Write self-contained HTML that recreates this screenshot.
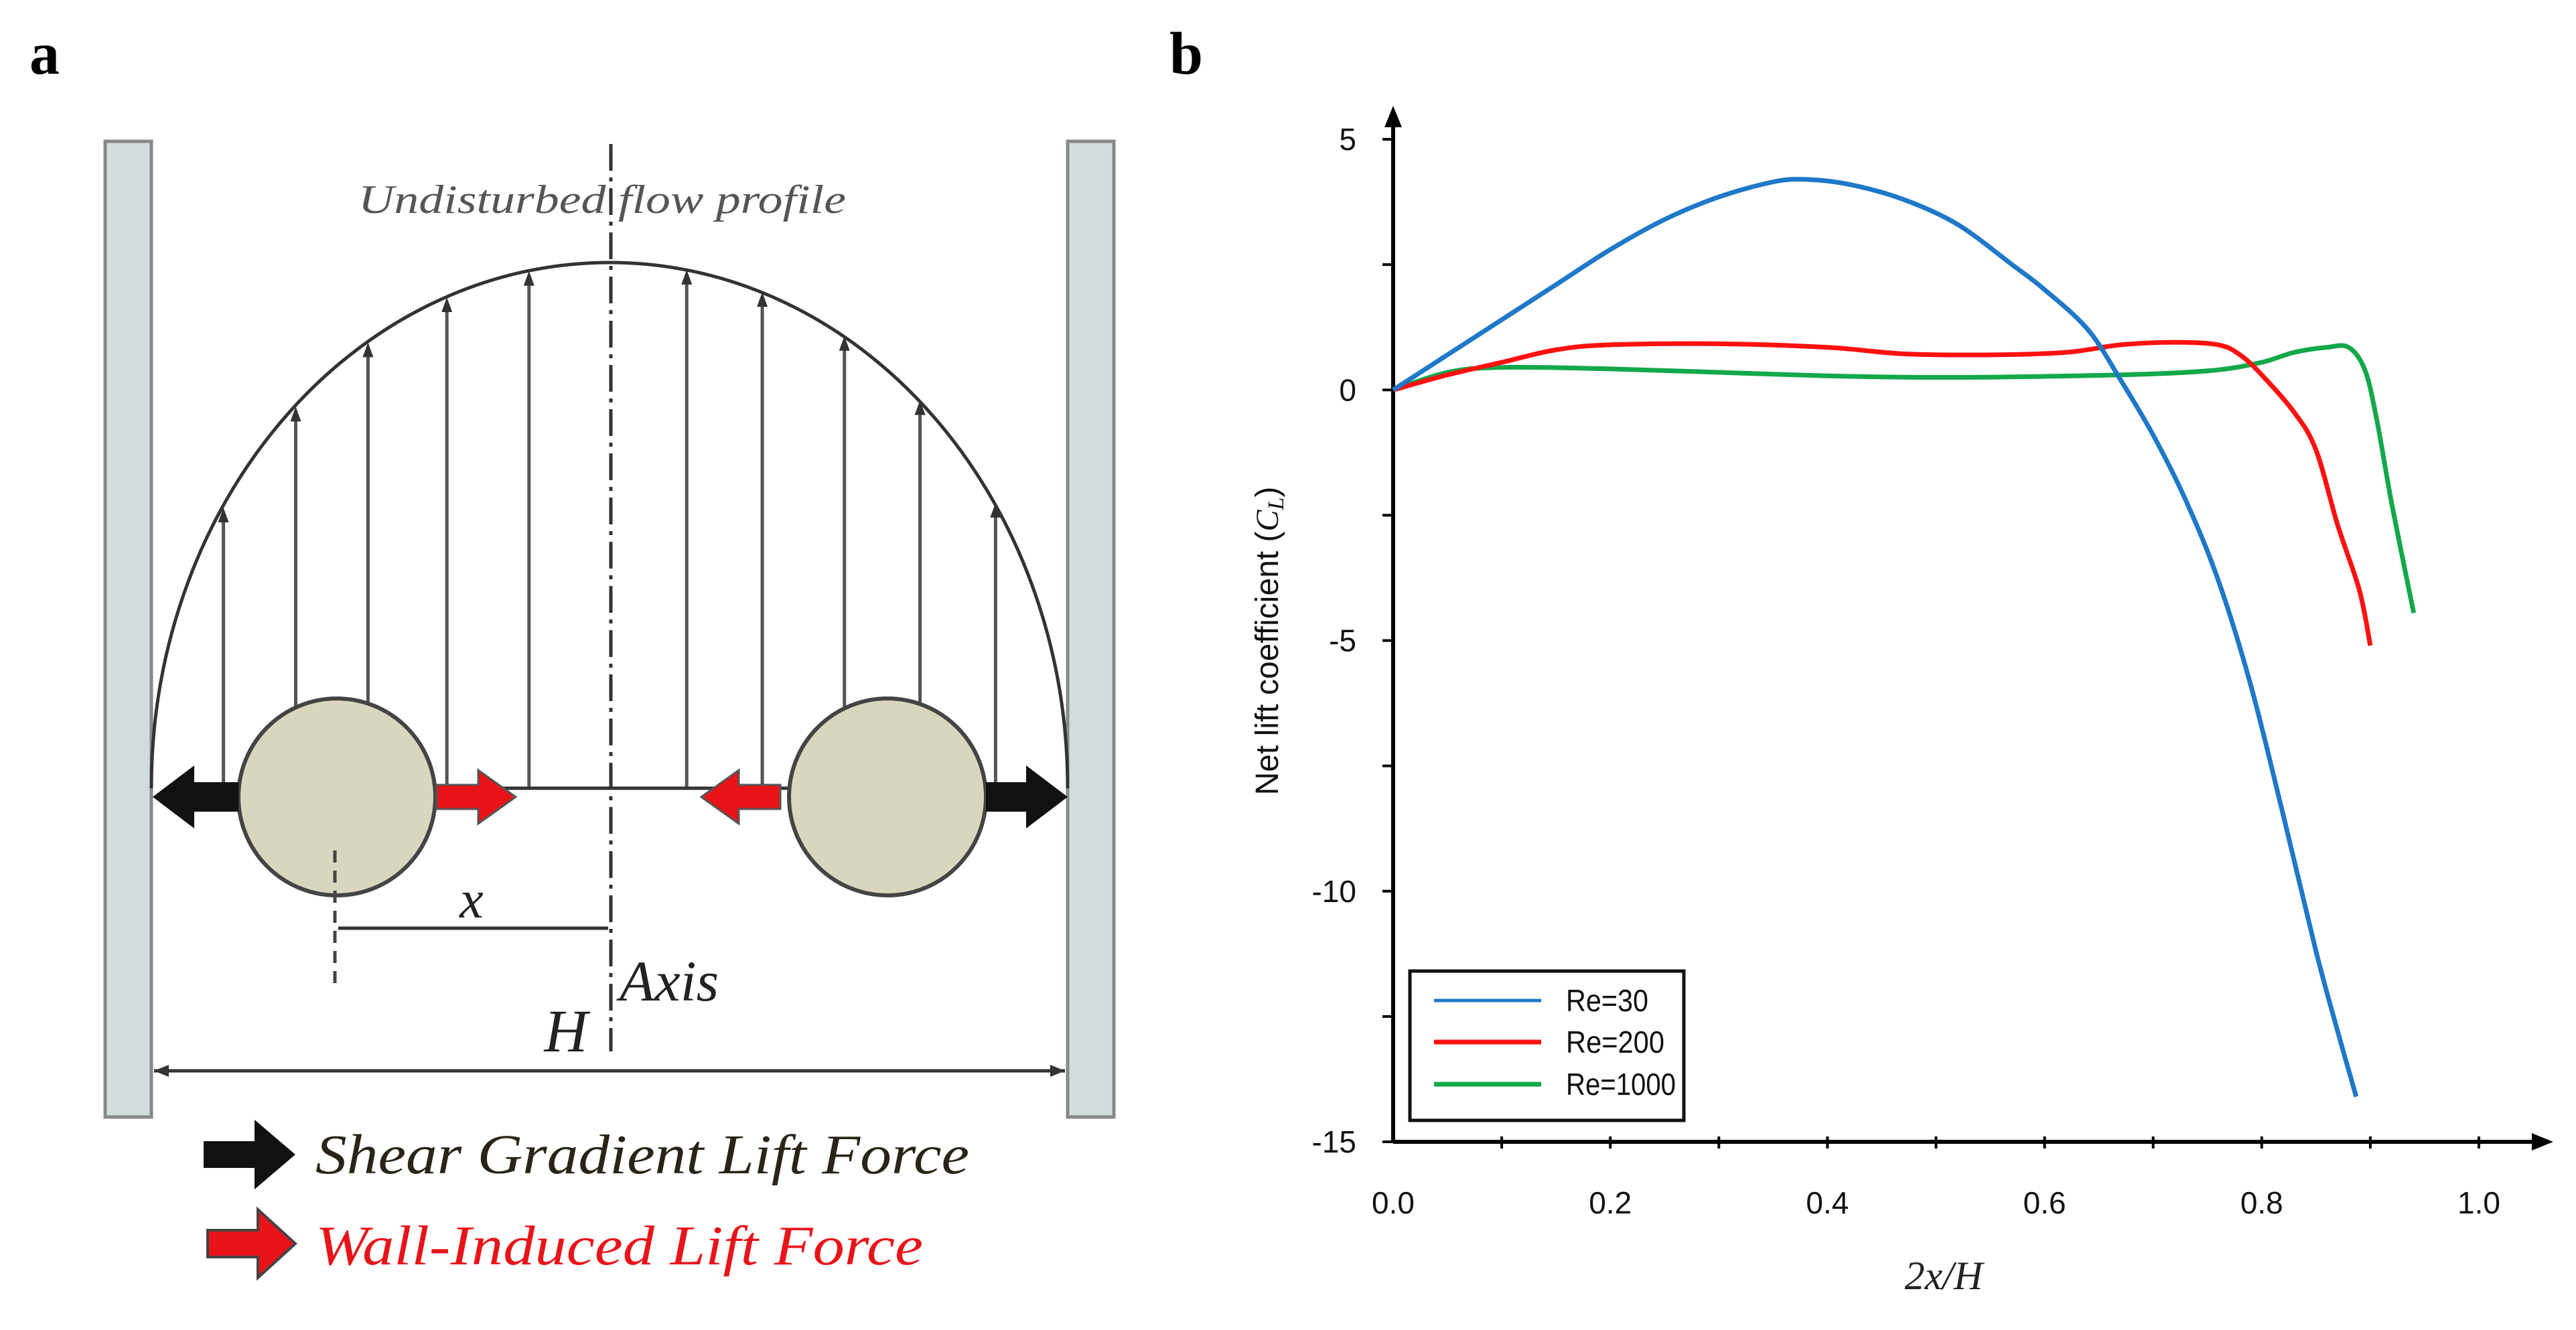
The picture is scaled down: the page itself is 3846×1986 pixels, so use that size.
<!DOCTYPE html>
<html><head><meta charset="utf-8">
<style>
html,body{margin:0;padding:0;background:#fff;}
svg{display:block;}
</style></head>
<body>
<svg id="fig" width="3846" height="1986" viewBox="0 0 3846 1986" xmlns="http://www.w3.org/2000/svg">
<rect width="3846" height="1986" fill="#fff"/>
<text x="44" y="110" font-family="Liberation Serif, serif" font-weight="bold" font-size="90">a</text>
<text x="1746" y="110" font-family="Liberation Serif, serif" font-weight="bold" font-size="90">b</text>

<g>
  <rect x="157" y="211" width="69" height="1457" fill="#d3dcdc" stroke="#888" stroke-width="5"/>
  <rect x="1594" y="211" width="69" height="1457" fill="#d3dcdc" stroke="#888" stroke-width="5"/>
  <g stroke="#555" stroke-width="5" id="vecs"></g>
  <path d="M226,1177 A684,785 0 0 1 1594,1177" fill="none" stroke="#333" stroke-width="5"/>
  <line x1="650" y1="1177" x2="1180" y2="1177" stroke="#333" stroke-width="5"/>
  <line x1="912" y1="215" x2="912" y2="1570" stroke="#333" stroke-width="5" stroke-dasharray="40,10,6,10"/>
  <text x="535" y="318" textLength="728" lengthAdjust="spacingAndGlyphs" font-family="Liberation Serif, serif" font-style="italic" font-size="60" fill="#555">Undisturbed flow profile</text>
  <circle cx="503" cy="1190" r="147" fill="#d8d6bd" stroke="#444" stroke-width="6"/>
  <circle cx="1325" cy="1190" r="147" fill="#d8d6bd" stroke="#444" stroke-width="6"/>
  <polygon points="356,1168 290,1168 290,1143 228,1190 290,1237 290,1212 356,1212" fill="#111"/>
  <polygon points="1472,1168 1532,1168 1532,1143 1594,1190 1532,1237 1532,1212 1472,1212" fill="#111"/>
  <polygon points="652,1172 714,1172 714,1150 770,1190 714,1230 714,1208 652,1208" fill="#e8141a" stroke="#555" stroke-width="3"/>
  <polygon points="1165,1172 1103,1172 1103,1150 1047,1190 1103,1230 1103,1208 1165,1208" fill="#e8141a" stroke="#555" stroke-width="3"/>
  <line x1="500" y1="1270" x2="500" y2="1480" stroke="#444" stroke-width="5" stroke-dasharray="18,12"/>
  <line x1="505" y1="1386" x2="908" y2="1386" stroke="#333" stroke-width="5"/>
  <text x="704" y="1370" text-anchor="middle" font-family="Liberation Serif, serif" font-style="italic" font-size="80" fill="#222">x</text>
  <text x="925" y="1494" font-family="Liberation Serif, serif" font-style="italic" font-size="86" fill="#222">Axis</text>
  <text x="845" y="1570" text-anchor="middle" font-family="Liberation Serif, serif" font-style="italic" font-size="90" fill="#222">H</text>
  <line x1="230" y1="1599" x2="1590" y2="1599" stroke="#333" stroke-width="5"/>
  <polygon points="230,1599 252,1590 252,1608" fill="#333"/>
  <polygon points="1590,1599 1568,1590 1568,1608" fill="#333"/>
  <polygon points="304,1704 380,1704 380,1672 441,1724 380,1776 380,1744 304,1744" fill="#111"/>
  <text x="471" y="1752" textLength="976" lengthAdjust="spacingAndGlyphs" font-family="Liberation Serif, serif" font-style="italic" font-size="84" fill="#2a2418">Shear Gradient Lift Force</text>
  <polygon points="310,1837 385,1837 385,1806 441,1857 385,1908 385,1877 310,1877" fill="#e8141a" stroke="#444" stroke-width="4"/>
  <text x="471" y="1888" textLength="907" lengthAdjust="spacingAndGlyphs" font-family="Liberation Serif, serif" font-style="italic" font-size="84" fill="#e8141a">Wall-Induced Lift Force</text>
</g>

<g id="chart"></g>
</svg>
<script>
const vecXs=[136,180,224,272,322,418,464,514,560,606];
const NS="http://www.w3.org/2000/svg";
(function(){
  const g=document.getElementById('vecs');
  vecXs.forEach(s=>{
    const x=s*2.4528, cx=912, dx=(x-cx)/684;
    const top=1177-785*Math.sqrt(Math.max(0,1-dx*dx));
    const l=document.createElementNS(NS,'line');
    
    
    l.setAttribute('x1',x);l.setAttribute('x2',x);l.setAttribute('y1',1177);l.setAttribute('y2',top+8);
    g.appendChild(l);
    const p=document.createElementNS(NS,'polygon');
    
    
    p.setAttribute('points',`${x},${top} ${x-8},${top+22} ${x+8},${top+22}`);
    p.setAttribute('fill','#333');p.setAttribute('stroke','none');
    g.appendChild(p);
  });
})();

const xTicks=[0.0,0.2,0.4,0.6,0.8,1.0];
const xTickLabels=["0.0","0.2","0.4","0.6","0.8","1.0"];
const yTicks=[5,0,-5,-10,-15];
const yTickLabels=["5","0","-5","-10","-15"];
const seriesNames=["Re=30","Re=200","Re=1000"];
const re30X=[0,0.05,0.1,0.15,0.2,0.25,0.3,0.35,0.38,0.42,0.47,0.52,0.57,0.6,0.64,0.67,0.7,0.73,0.76,0.79,0.82,0.85,0.87,0.887];
const re30Y=[0,0.7,1.4,2.1,2.8,3.4,3.85,4.15,4.2,4.1,3.8,3.3,2.5,2.0,1.2,0.2,-0.9,-2.2,-3.8,-5.9,-8.5,-11.2,-12.8,-14.1];
const re200X=[0,0.05,0.1,0.15,0.2,0.3,0.4,0.47,0.55,0.62,0.67,0.72,0.76,0.78,0.8,0.83,0.85,0.87,0.89,0.9];
const re200Y=[0,0.3,0.55,0.8,0.9,0.92,0.85,0.72,0.7,0.75,0.9,0.95,0.9,0.7,0.3,-0.45,-1.2,-2.7,-4.0,-5.1];
const re1000X=[0,0.05,0.1,0.2,0.3,0.4,0.5,0.6,0.7,0.76,0.8,0.83,0.86,0.88,0.895,0.906,0.92,0.94];
const re1000Y=[0,0.35,0.45,0.42,0.35,0.28,0.25,0.27,0.32,0.4,0.55,0.75,0.85,0.85,0.4,-0.6,-2.3,-4.45];
const colors=["#1f78c8","#ff1010","#13a84a"];

const X0=2080,X1=3701,YT=208,YB=1705;
function sx(v){return X0+(v-0)*(X1-X0)/1.0;}
function sy(v){return YT+(5-v)*(YB-YT)/20;}
const chart=document.getElementById('chart');
function el(tag,attrs){const e=document.createElementNS(NS,tag);for(const k in attrs)e.setAttribute(k,attrs[k]);chart.appendChild(e);return e;}

let a=el('line',{x1:X0,y1:YB,x2:3795,y2:YB,stroke:'#000','stroke-width':6});


a=el('polygon',{points:`3812,${YB} 3780,${YB-13} 3780,${YB+13}`,fill:'#000'});


a=el('line',{x1:X0,y1:YB,x2:X0,y2:175,stroke:'#000','stroke-width':6});


a=el('polygon',{points:`${X0},158 ${X0-13},190 ${X0+13},190`,fill:'#000'});



for(let v=0.1;v<=1.001;v+=0.1){
  const t=el('line',{x1:sx(v),x2:sx(v),y1:YB-8,y2:YB+10,stroke:'#000','stroke-width':4});
  
  
}
for(let v=-15;v<=5;v+=2.5){
  const t=el('line',{x1:X0-16,x2:X0,y1:sy(v),y2:sy(v),stroke:'#000','stroke-width':4});
  
  
}
xTicks.forEach((v,i)=>{
  const t=el('text',{x:sx(v),y:1812,'text-anchor':'middle','font-family':'Liberation Sans, sans-serif','font-size':46,fill:'#111'});
  t.textContent=xTickLabels[i];
  
  
});
yTicks.forEach((v,i)=>{
  const t=el('text',{x:2025,y:sy(v)+16,'text-anchor':'end','font-family':'Liberation Sans, sans-serif','font-size':46,fill:'#111'});
  t.textContent=yTickLabels[i];
  
  
});
let tt=el('text',{x:2902,y:1925,'text-anchor':'middle','font-family':'Liberation Serif, serif','font-style':'italic','font-size':60,fill:'#222'});
tt.textContent='2x/H';


tt=el('text',{x:0,y:0,transform:'translate(1908,957) rotate(-90)','text-anchor':'middle','font-family':'Liberation Sans, sans-serif','font-size':48,fill:'#111'});
tt.innerHTML='Net lift coefficient (<tspan font-family="Liberation Serif, serif" font-style="italic">C<tspan font-size="34" dy="8">L</tspan></tspan><tspan dy="-8">)</tspan>';



function smooth(xs,ys){
  const p=xs.map((x,i)=>[sx(x),sy(ys[i])]);
  let d=`M${p[0][0]},${p[0][1]}`;
  for(let i=0;i<p.length-1;i++){
    const p0=p[Math.max(0,i-1)],p1=p[i],p2=p[i+1],p3=p[Math.min(p.length-1,i+2)];
    const c1=[p1[0]+(p2[0]-p0[0])/6,p1[1]+(p2[1]-p0[1])/6];
    const c2=[p2[0]-(p3[0]-p1[0])/6,p2[1]-(p3[1]-p1[1])/6];
    d+=` C${c1[0]},${c1[1]} ${c2[0]},${c2[1]} ${p2[0]},${p2[1]}`;
  }
  return d;
}
const allX=[re30X,re200X,re1000X],allY=[re30Y,re200Y,re1000Y];
const snames=['series-re30','series-re200','series-re1000'];
[2,1,0].forEach(i=>{
  const p=el('path',{d:smooth(allX[i],allY[i]),fill:'none',stroke:colors[i],'stroke-width':7,'stroke-linejoin':'round'});
  
  
});

const lb=el('rect',{x:2105,y:1450,width:409,height:223,fill:'#fff',stroke:'#111','stroke-width':5});


const ly=[1494,1556,1619];
const lw=[123,147,164];
seriesNames.forEach((n,i)=>{
  const l=el('line',{x1:2141,x2:2301,y1:ly[i],y2:ly[i],stroke:colors[i],'stroke-width':i==0?5:7});
  
  
  const t=el('text',{x:2338,y:ly[i]+16,textLength:lw[i],lengthAdjust:'spacingAndGlyphs','font-family':'Liberation Sans, sans-serif','font-size':46,fill:'#111'});
  t.textContent=n;
  
  
});
</script>
</body></html>
